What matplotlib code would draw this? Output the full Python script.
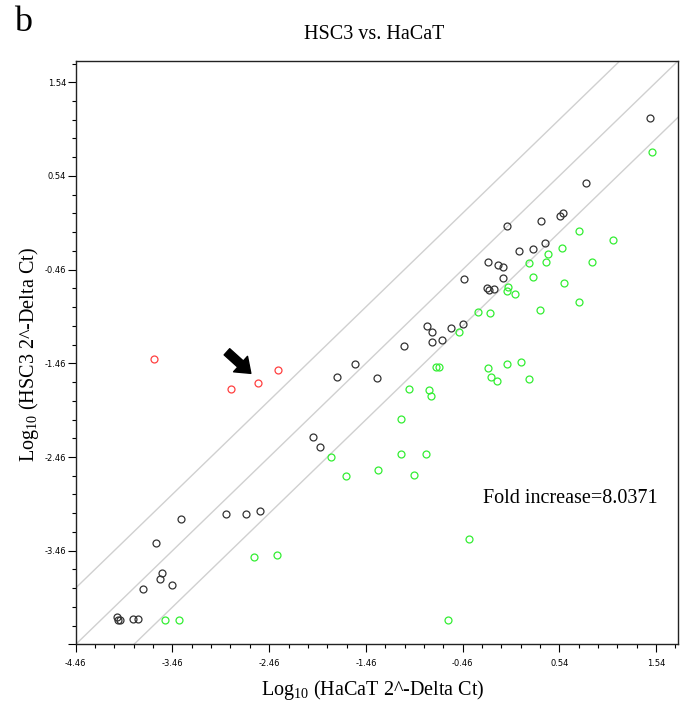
import numpy as np
import matplotlib

matplotlib.use("Agg")
import matplotlib.pyplot as plt
from matplotlib.ticker import FixedLocator, FormatStrFormatter

plt.rcParams["font.family"] = ["Liberation Serif", "DejaVu Serif"]
plt.rcParams["mathtext.fontset"] = "custom"
plt.rcParams["mathtext.rm"] = "Liberation Serif"
plt.rcParams["axes.unicode_minus"] = False

# log10 2^-dCt values: HaCaT (x) vs HSC3 (y)
unchanged_x = [-4.03, -4.02, -4.00, -3.867, -3.813, -3.767, -3.591, -3.568, -3.461, -3.630,
               -3.371, -2.906, -2.696, -2.551, -2.009, -1.930, -1.754, -1.575, -1.341, -1.065,
               -0.779, -0.672, -0.830, -0.772, -0.576, -0.455, -0.448, -0.204, -0.183, -0.131,
               -0.044, -0.199, -0.090, -0.041, 0.124, 0.269, 0.390, -0.003, 0.349, 0.545,
               0.576, 0.820, 1.479]
unchanged_y = [-4.171, -4.199, -4.20, -4.192, -4.192, -3.872, -3.765, -3.701, -3.826, -3.378,
               -3.125, -3.072, -3.072, -3.033, -2.243, -2.357, -1.603, -1.471, -1.614, -1.279,
               -1.233, -1.215, -1.065, -1.129, -1.086, -1.044, -0.560, -0.656, -0.681, -0.670,
               -0.550, -0.376, -0.408, -0.435, -0.265, -0.244, -0.173, 0.002, 0.059, 0.109,
               0.144, 0.464, 1.155]

down_x = [-3.540, -3.395, -2.619, -2.375, -1.823, -1.665, -1.331, -1.093, -1.093, -0.958,
          -0.841, -1.016, -0.810, -0.789, -0.737, -0.703, -0.390, -0.613, -0.199, -0.162,
          -0.100, -0.003, 0.142, 0.231, -0.496, -0.300, -0.172, 0.341, 0.742, 0.007,
          -0.003, 0.086, 0.272, 0.593, 0.225, 0.400, 0.882, 0.421, 0.566, 0.742,
          1.096, 1.500]
down_y = [-4.200, -4.200, -3.530, -3.509, -2.457, -2.660, -2.599, -2.051, -2.428, -2.649,
          -2.428, -1.737, -1.745, -1.809, -1.503, -1.503, -3.338, -4.200, -1.513, -1.603,
          -1.646, -1.471, -1.449, -1.624, -1.123, -0.916, -0.926, -0.894, -0.803, -0.649,
          -0.692, -0.724, -0.542, -0.599, -0.390, -0.379, -0.379, -0.297, -0.226, -0.045,
          -0.147, 0.798]

up_x = [-3.647, -2.851, -2.578, -2.368]
up_y = [-1.411, -1.737, -1.667, -1.535]

marked_gene = (-2.578, -1.667)
fold_boundary = 4.0
fold_increase = 8.0371
axis_min, axis_max = -4.46, 1.77

fig = plt.figure(figsize=(6.81, 7.10), dpi=100)
ax = fig.add_axes([0.1112, 0.0924, 0.8848, 0.8221])

offset = np.log10(fold_boundary)
for shift in (offset, 0.0, -offset):
    ax.axline((0, shift), slope=1, color="#d0d0d0", linewidth=1.0, zorder=1)

style = dict(linestyle="none", marker="o", markersize=5, markerfacecolor="none",
             markeredgewidth=0.9, zorder=3)
ax.plot(unchanged_x, unchanged_y, markeredgecolor="#333333", **style)
ax.plot(down_x, down_y, markeredgecolor="#33ee33", **style)
ax.plot(up_x, up_y, markeredgecolor="#ff4040", **style)

ax.annotate("", xy=(marked_gene[0] - 0.05, marked_gene[1] + 0.08),
            xytext=(marked_gene[0] - 0.34, marked_gene[1] + 0.35),
            arrowprops=dict(arrowstyle="simple,head_length=1.0,head_width=1.5,tail_width=0.6",
                            color="black", mutation_scale=10), zorder=4)

ax.set_xlim(axis_min, axis_max)
ax.set_ylim(axis_min, axis_max)
majors = np.arange(axis_min, axis_max, 1.0)
minors = np.arange(axis_min, axis_max, 0.2)
for axis in (ax.xaxis, ax.yaxis):
    axis.set_major_locator(FixedLocator(majors))
    axis.set_minor_locator(FixedLocator(minors))
ax.xaxis.set_major_formatter(FormatStrFormatter("%.2f"))
ax.yaxis.set_major_formatter(lambda v, pos: "" if pos == 0 else f"{v:.2f}")
ax.tick_params(which="major", direction="out", length=5.5, width=0.8, pad=1.5,
               labelsize=6, labelfontfamily="DejaVu Sans")
ax.tick_params(which="minor", direction="out", length=3, width=0.8)
ax.tick_params(axis="x", which="major", pad=5)
for spine in ax.spines.values():
    spine.set_color("#222222")
    spine.set_linewidth(1.0)

ax.text(0.966, 0.243, f"Fold increase={fold_increase}", transform=ax.transAxes,
        ha="right", va="baseline", fontsize=14.5)

fig.text(0.549, 0.951, "HSC3 vs. HaCaT", ha="center", va="center", fontsize=14.5)
fig.text(0.548, 0.028, "Log$_{\\mathrm{10}}$ (HaCaT 2^-Delta Ct)", ha="center", va="center",
         fontsize=14.5)
fig.text(0.043, 0.50, "Log$_{\\mathrm{10}}$ (HSC3 2^-Delta Ct)", ha="center", va="center",
         rotation=90, fontsize=14.5)
fig.text(0.020, 0.968, "b", ha="left", va="center", fontsize=26)

fig.savefig("out.png", dpi=100)
